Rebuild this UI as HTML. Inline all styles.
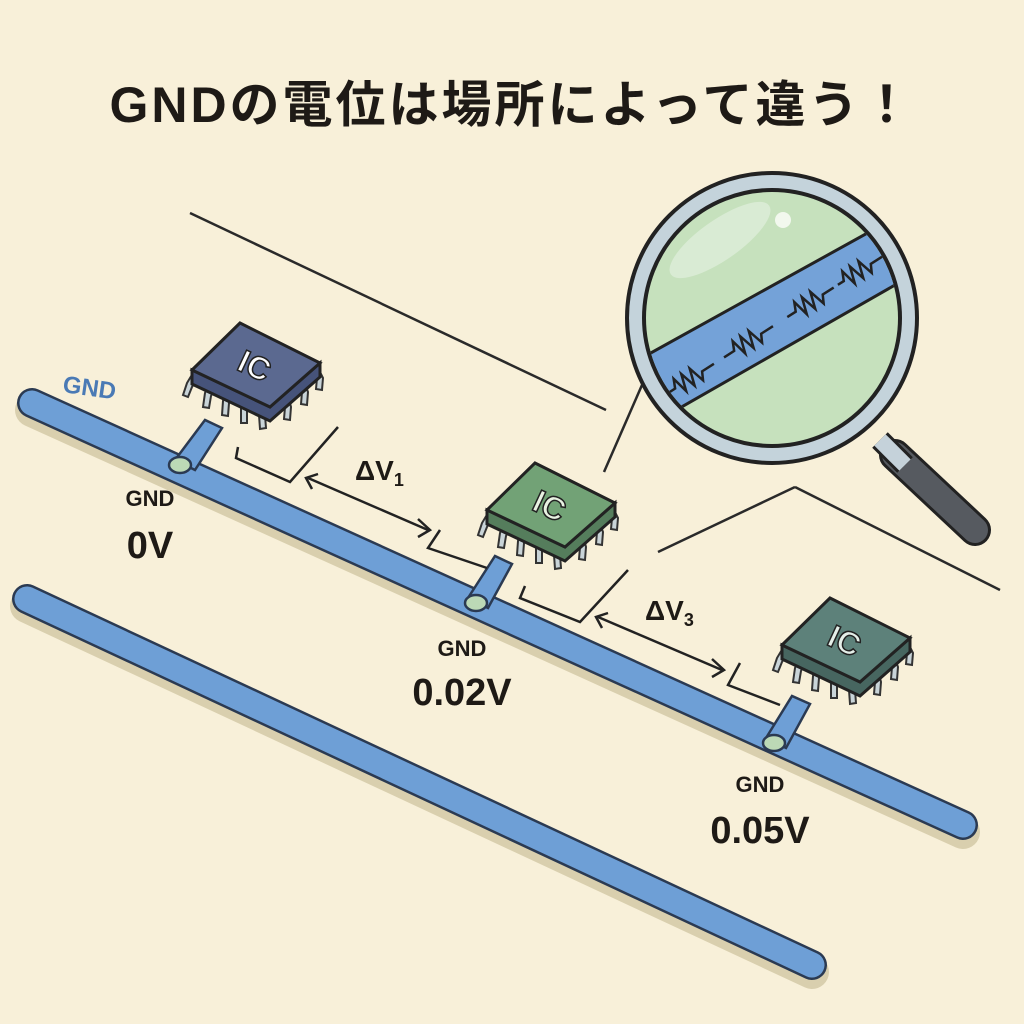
<!DOCTYPE html>
<html><head><meta charset="utf-8"><style>
html,body{margin:0;padding:0;background:#f8f0d9;}
svg{display:block}
text{font-family:"Liberation Sans","Noto Sans CJK JP",sans-serif;font-weight:bold}
</style></head><body>
<svg width="1024" height="1024" viewBox="0 0 1024 1024" xmlns="http://www.w3.org/2000/svg">
<defs>
<g id="pins" stroke="#333" stroke-width="2" fill="#c9d4d8">
<path d="M-62,8 l-6,10 l-4,12 l5,2 l4,-10 l6,-10z"/>
<path d="M-45,16 l-5,12 l-2,14 l6,1 l2,-12 l5,-11z"/>
<path d="M-28,24 l-4,12 l-1,14 l6,1 l1,-13 l4,-11z"/>
<path d="M-11,32 l-3,12 l0,14 l6,0 l0,-13 l3,-11z"/>
<path d="M6,38 l-2,12 l1,14 l6,-1 l-1,-13 l2,-10z"/>
<path d="M28,30 l2,12 l-1,12 l6,1 l1,-13 l-3,-12z"/>
<path d="M44,16 l3,11 l-1,12 l6,1 l1,-13 l-4,-11z"/>
<path d="M58,3 l4,10 l-1,11 l6,1 l1,-12 l-5,-10z"/>
</g>
</defs>

<text x="512" y="122" font-size="50" text-anchor="middle" fill="#1e1a16" letter-spacing="3">GNDの電位は場所によって違う！</text>

<g stroke="#2a2a2a" stroke-width="2.5" fill="none">
<line x1="190" y1="213" x2="606" y2="410"/>
<line x1="795" y1="487" x2="1000" y2="590"/>
<line x1="604" y1="472" x2="642" y2="385"/>
<line x1="658" y1="552" x2="795" y2="487"/>
</g>

<g stroke-linecap="round">
<line x1="32" y1="410" x2="963" y2="832" stroke="#d9cfae" stroke-width="34"/>
<line x1="32" y1="403" x2="963" y2="825" stroke="#2b3a52" stroke-width="30"/>
<line x1="32" y1="403" x2="963" y2="825" stroke="#6e9fd6" stroke-width="25"/>
<line x1="27" y1="606" x2="812" y2="972" stroke="#d9cfae" stroke-width="34"/>
<line x1="27" y1="599" x2="812" y2="965" stroke="#2b3a52" stroke-width="30"/>
<line x1="27" y1="599" x2="812" y2="965" stroke="#6e9fd6" stroke-width="25"/>
</g>

<g fill="#6e9fd6" stroke="#2b3a52" stroke-width="2.5">
<polygon points="175,460 205,420 222,428 195,470"/>
<polygon points="468,598 495,556 512,564 488,608"/>
<polygon points="766,738 792,696 810,704 786,748"/>
</g>
<g fill="#bcd9b6" stroke="#2b3a52" stroke-width="2.5">
<ellipse cx="180" cy="465" rx="11" ry="8"/>
<ellipse cx="476" cy="603" rx="11" ry="8"/>
<ellipse cx="774" cy="743" rx="11" ry="8"/>
</g>

<g stroke="#222" stroke-width="2.5" fill="none">
<polyline points="238,447 236,458 290,482 338,427"/>
<polyline points="440,530 428,548 487,568"/>
<polyline points="525,586 520,598 580,622 628,570"/>
<polyline points="740,663 728,685 780,705"/>
<line x1="308" y1="478" x2="428" y2="530"/>
<polyline points="318,474 306,478 312,489"/>
<polyline points="418,519 430,530 418,537"/>
<line x1="598" y1="617" x2="722" y2="670"/>
<polyline points="608,613 596,617 602,628"/>
<polyline points="712,659 724,670 712,677"/>
</g>

<g transform="translate(255,365)">
<use href="#pins"/>
<polygon points="-63,5 15,42 65,-2 65,12 15,56 -63,19" fill="#46537a" stroke="#222" stroke-width="3"/>
<polygon points="-15,-42 65,-2 15,42 -63,5" fill="#5b6990" stroke="#222" stroke-width="3"/>
<text x="0" y="12" font-size="32" fill="#fff" stroke="#222" stroke-width="1.5" text-anchor="middle" transform="rotate(25)">IC</text>
</g>
<g transform="translate(550,505)">
<use href="#pins"/>
<polygon points="-63,5 15,42 65,-2 65,12 15,56 -63,19" fill="#557d5c" stroke="#222" stroke-width="3"/>
<polygon points="-15,-42 65,-2 15,42 -63,5" fill="#72a276" stroke="#222" stroke-width="3"/>
<text x="0" y="12" font-size="32" fill="#e8f2e2" stroke="#222" stroke-width="1.5" text-anchor="middle" transform="rotate(25)">IC</text>
</g>
<g transform="translate(845,640)">
<use href="#pins"/>
<polygon points="-63,5 15,42 65,-2 65,12 15,56 -63,19" fill="#476660" stroke="#222" stroke-width="3"/>
<polygon points="-15,-42 65,-2 15,42 -63,5" fill="#5d817a" stroke="#222" stroke-width="3"/>
<text x="0" y="12" font-size="32" fill="#e5efe9" stroke="#222" stroke-width="1.5" text-anchor="middle" transform="rotate(25)">IC</text>
</g>

<text x="62" y="392" font-size="24" fill="#4a7ab5" transform="rotate(8 62 392)">GND</text>
<text x="150" y="506" font-size="22" fill="#1e1a16" text-anchor="middle">GND</text>
<text x="150" y="558" font-size="38" fill="#1e1a16" text-anchor="middle">0V</text>
<text x="462" y="656" font-size="22" fill="#1e1a16" text-anchor="middle">GND</text>
<text x="462" y="705" font-size="38" fill="#1e1a16" text-anchor="middle">0.02V</text>
<text x="760" y="792" font-size="22" fill="#1e1a16" text-anchor="middle">GND</text>
<text x="760" y="843" font-size="38" fill="#1e1a16" text-anchor="middle">0.05V</text>
<text x="355" y="480" font-size="28" fill="#1e1a16" font-weight="normal">ΔV<tspan font-size="18" dy="6">1</tspan></text>
<text x="645" y="620" font-size="28" fill="#1e1a16" font-weight="normal">ΔV<tspan font-size="18" dy="6">3</tspan></text>

<g>
<line x1="895" y1="455" x2="975" y2="530" stroke="#222" stroke-width="32" stroke-linecap="round"/>
<line x1="895" y1="455" x2="975" y2="530" stroke="#565a60" stroke-width="26" stroke-linecap="round"/>
<line x1="880" y1="440" x2="905" y2="465" stroke="#222" stroke-width="22"/>
<line x1="880" y1="440" x2="905" y2="465" stroke="#c5d2da" stroke-width="16"/>
<circle cx="772" cy="318" r="145" fill="#c4d3db" stroke="#222" stroke-width="4"/>
<circle cx="772" cy="318" r="128" fill="#c6e1bd" stroke="#222" stroke-width="4"/>
<clipPath id="lens"><circle cx="772" cy="318" r="126"/></clipPath>
<g clip-path="url(#lens)">
<polygon points="620,370 900,215 930,265 650,425" fill="#74a2d8" stroke="#222" stroke-width="3"/>
<g transform="translate(665,395) rotate(-32.5)">
<polyline points="-10,0 12,0 16,-9 20,8 25,-9 30,8 35,-9 40,8 44,0 58,0" fill="none" stroke="#222" stroke-width="2.5"/>
<polyline points="70,0 82,0 86,-9 90,8 95,-9 100,8 105,-9 110,8 114,0 128,0" fill="none" stroke="#222" stroke-width="2.5"/>
<polyline points="145,0 155,0 159,-9 163,8 168,-9 173,8 178,-9 183,8 187,0 200,0" fill="none" stroke="#222" stroke-width="2.5"/>
<polyline points="205,0 212,0 216,-9 220,8 225,-9 230,8 235,-9 240,8 244,0 260,0" fill="none" stroke="#222" stroke-width="2.5"/>
</g>
<ellipse cx="720" cy="240" rx="60" ry="20" fill="#e6f1e2" opacity=".6" transform="rotate(-35 720 240)"/>
<circle cx="783" cy="220" r="8" fill="#f2f8ee"/>
</g>
</g>
</svg>
</body></html>
